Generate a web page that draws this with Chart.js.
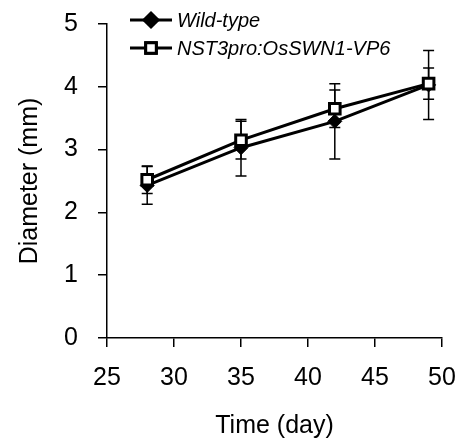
<!DOCTYPE html>
<html>
<head>
<meta charset="utf-8">
<script src="https://cdn.jsdelivr.net/npm/chart.js@4"></script>
<style>
  html, body { margin: 0; padding: 0; background: #fff; }
  #wrap { width: 459px; height: 439px; }
</style>
</head>
<body>
<div id="wrap"><canvas id="diamChart" width="459" height="439"></canvas></div>
<script>
// Données
const days = [28, 35, 42, 49];
const wildType = [2.43, 3.03, 3.45, 4.03];
const wildTypeErr = [0.30, 0.45, 0.60, 0.55];
const nst3 = [2.52, 3.15, 3.65, 4.05];
const nst3Err = [0.22, 0.30, 0.30, 0.25];
const xTicks = [25, 30, 35, 40, 45, 50];
const yTicks = [0, 1, 2, 3, 4, 5];

const FONT = "'Liberation Sans', Arial, sans-serif";

// Barres d'erreur, dessinées sous les marqueurs
const errorBars = {
    id: 'errorBars',
    beforeDatasetsDraw(chart) {
        const { ctx, scales: { x, y } } = chart;
        ctx.save();
        ctx.strokeStyle = '#000';
        ctx.lineWidth = 1.5;
        chart.data.datasets.forEach(ds => {
            ds.data.forEach((p, i) => {
                const e = ds.errors[i];
                const px = x.getPixelForValue(p.x);
                const top = y.getPixelForValue(p.y + e);
                const bot = y.getPixelForValue(p.y - e);
                ctx.beginPath();
                ctx.moveTo(px, top); ctx.lineTo(px, bot);
                ctx.moveTo(px - 5.5, top); ctx.lineTo(px + 5.5, top);
                ctx.moveTo(px - 5.5, bot); ctx.lineTo(px + 5.5, bot);
                ctx.stroke();
            });
        });
        ctx.restore();
    }
};

// Légende dans la zone du graphique
const insideLegend = {
    id: 'insideLegend',
    afterDraw(chart) {
        const { ctx } = chart;
        ctx.save();
        chart.data.datasets.forEach((ds, i) => {
            const cy = 20 + i * 28;
            ctx.strokeStyle = '#000';
            ctx.lineWidth = 3;
            ctx.beginPath();
            ctx.moveTo(130, cy); ctx.lineTo(172, cy);
            ctx.stroke();
            Chart.helpers.drawPoint(ctx, {
                pointStyle: ds.pointStyle,
                radius: ds.pointRadius,
                borderWidth: ds.pointBorderWidth
            }, 151, cy);
            ctx.fillStyle = ds.pointBackgroundColor;
            ctx.strokeStyle = '#000';
            ctx.lineWidth = ds.pointBorderWidth;
            ctx.fill();
            ctx.stroke();
            ctx.fillStyle = '#000';
            ctx.font = "italic 20px " + FONT;
            ctx.textBaseline = 'middle';
            ctx.fillText(ds.label, 177, cy + 1);
        });
        ctx.restore();
    }
};

const config = {
    type: 'line',
    data: {
        datasets: [{
            label: 'Wild-type',
            data: days.map((d, i) => ({ x: d, y: wildType[i] })),
            errors: wildTypeErr,
            borderColor: '#000',
            borderWidth: 3,
            pointStyle: 'rectRot',
            pointRadius: 7,
            pointBorderWidth: 1,
            pointBackgroundColor: '#000',
            pointBorderColor: '#000',
            order: 1
        }, {
            label: 'NST3pro:OsSWN1-VP6',
            data: days.map((d, i) => ({ x: d, y: nst3[i] })),
            errors: nst3Err,
            borderColor: '#000',
            borderWidth: 3,
            pointStyle: 'rect',
            pointRadius: 7.5,
            pointBorderWidth: 3,
            pointBackgroundColor: '#fff',
            pointBorderColor: '#000',
            order: 0
        }]
    },
    options: {
        responsive: false,
        animation: false,
        layout: { padding: { left: 0, right: 17, top: 24, bottom: 0 } },
        plugins: {
            legend: { display: false },
            tooltip: { enabled: false }
        },
        scales: {
            x: {
                type: 'linear',
                min: 25,
                max: 50,
                afterBuildTicks: s => { s.ticks = xTicks.map(v => ({ value: v })); },
                afterFit: s => { s.height = 101; s.paddingLeft = 0; s.paddingRight = 0; },
                ticks: { color: '#000', font: { family: FONT, size: 25 }, padding: 16, maxRotation: 0 },
                grid: { drawOnChartArea: false, drawTicks: true, tickLength: 9, color: '#000', lineWidth: 1.5 },
                border: { color: '#000', width: 1.5 },
                title: {
                    display: true,
                    text: 'Time (day)',
                    color: '#000',
                    font: { family: FONT, size: 25 },
                    padding: { top: 0, bottom: -2 }
                }
            },
            y: {
                min: 0,
                max: 5,
                afterBuildTicks: s => { s.ticks = yTicks.map(v => ({ value: v })); },
                afterFit: s => { s.width = 107; s.paddingTop = 0; s.paddingBottom = 0; },
                ticks: { color: '#000', font: { family: FONT, size: 25 }, padding: 20 },
                grid: { drawOnChartArea: false, drawTicks: true, tickLength: 9, color: '#000', lineWidth: 1.5 },
                border: { color: '#000', width: 1.5 },
                title: {
                    display: true,
                    text: 'Diameter (mm)',
                    color: '#000',
                    font: { family: FONT, size: 25 },
                    padding: 15
                }
            }
        }
    },
    plugins: [errorBars, insideLegend]
};

const diamChart = new Chart(document.getElementById('diamChart'), config);
</script>
</body>
</html>
